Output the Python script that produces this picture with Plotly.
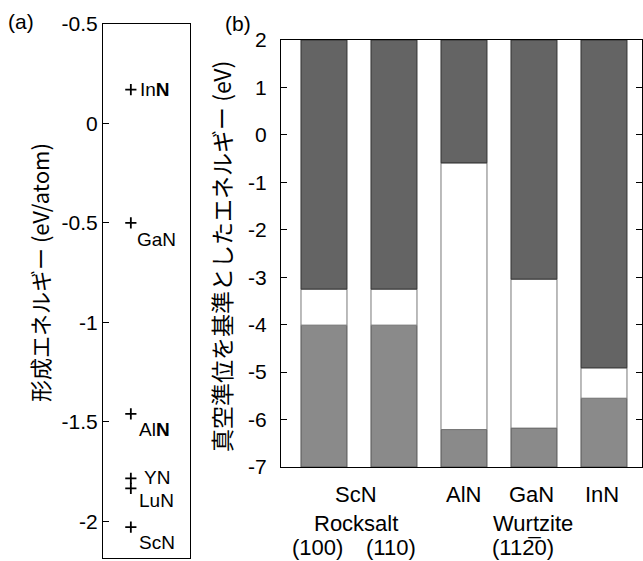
import plotly.graph_objects as go

# ---- data ----
# panel (a): formation energies (eV/atom)
comp_a = ["InN", "GaN", "AlN", "YN", "LuN", "ScN"]
form_energy = [0.17, -0.50, -1.46, -1.785, -1.835, -2.03]
label_a = ["In<b>N</b>", "GaN", "Al<b>N</b>", "YN", "LuN", "ScN"]

# panel (b): band edges vs vacuum level (eV)
bars_b = ["ScN(100)", "ScN(110)", "AlN", "GaN", "InN"]
cbm = [-3.25, -3.25, -0.59, -3.04, -4.91]
vbm = [-4.01, -4.01, -6.21, -6.18, -5.55]
y_bottom = -7
y_top = 2

W, H = 643, 561
def px_x(p): return p / W
def px_y(p): return 1 - p / H

SANS = "Liberation Sans, Arial"
TICKFONT = dict(family=SANS, size=21, color="black")
CJK = "Noto Sans CJK JP"

fig = go.Figure()

# panel (a) points
fig.add_trace(go.Scatter(
    x=[0.32] * len(form_energy), y=form_energy, mode="markers",
    marker=dict(symbol="cross-thin", size=8, line=dict(width=1.8, color="black")),
    xaxis="x", yaxis="y", showlegend=False, hoverinfo="skip"))

# panel (b) stacked bars
xs = list(range(len(bars_b)))
val_h = [v - y_bottom for v in vbm]
gap_h = [c - v for c, v in zip(cbm, vbm)]
cb_h = [y_top - c for c in cbm]
common = dict(x=xs, width=0.657, xaxis="x2", yaxis="y2", showlegend=False, hoverinfo="skip")
fig.add_trace(go.Bar(y=val_h, base=[y_bottom] * len(xs),
                     marker=dict(color="#8a8a8a", line=dict(color="#555555", width=1)), **common))
fig.add_trace(go.Bar(y=gap_h, base=vbm,
                     marker=dict(color="white", line=dict(color="#777777", width=1)), **common))
fig.add_trace(go.Bar(y=cb_h, base=cbm,
                     marker=dict(color="#646464", line=dict(color="#333333", width=1)), **common))

# axes
fig.update_layout(
    xaxis=dict(domain=[px_x(103), px_x(190)], range=[0, 1], showticklabels=False,
               ticks="", showgrid=False, zeroline=False, showline=True, mirror=True,
               linecolor="black", linewidth=1, automargin=False),
    yaxis=dict(domain=[px_y(558), px_y(24)], range=[-2.185, 0.5], anchor="x",
               tickvals=[0.5, 0, -0.5, -1, -1.5, -2],
               ticktext=["-0.5", "0", "-0.5", "-1", "-1.5", "-2"],
               ticks="inside", ticklen=6, tickcolor="black", tickfont=TICKFONT,
               showgrid=False, zeroline=False, showline=True, mirror=True,
               linecolor="black", linewidth=1, automargin=False),
    xaxis2=dict(domain=[px_x(281), px_x(642)], range=[-0.614, 4.543], anchor="y2",
                showticklabels=False, ticks="", showgrid=False, zeroline=False,
                showline=True, mirror=True, linecolor="black", linewidth=1, automargin=False),
    yaxis2=dict(domain=[px_y(467), px_y(40)], range=[-7, 2], anchor="x2",
                tickvals=list(range(-7, 3)),
                ticktext=[str(v) if v >= 0 else "-" + str(-v) for v in range(-7, 3)],
                ticks="inside", ticklen=6, tickcolor="black", tickfont=TICKFONT,
                ticklabelstandoff=9,
                showgrid=False, zeroline=False, showline=True, mirror="ticks",
                linecolor="black", linewidth=1, automargin=False),
    barmode="overlay",
    width=W, height=H, margin=dict(l=0, r=0, t=0, b=0, pad=0),
    plot_bgcolor="white", paper_bgcolor="white",
)

ann = []
def A(text, x, y, size=21, family=SANS, angle=0):
    ann.append(dict(text=text, x=x, y=y, xref="paper", yref="paper",
                    showarrow=False, textangle=angle, xanchor="center", yanchor="middle",
                    font=dict(family=family, size=size, color="black")))

# panel labels
A("(a)", px_x(21), px_y(22))
A("(b)", px_x(238), px_y(24))

# axis titles
A("形成エネルギー (eV/atom)", px_x(39), px_y(273), size=22, family=CJK, angle=-90)
A("真空準位を基準としたエネルギー (eV)", px_x(221), px_y(257), size=23, family=CJK, angle=-90)

# panel (a) point labels (offsets in pixels relative to points)
offsets = [(7, 0), (4, -17), (6, -16), (11, 1), (6, -12), (6, -15)]
for lab, e, (dx, dy) in zip(label_a, form_energy, offsets):
    ann.append(dict(text=lab, x=0.32, y=e, xref="x", yref="y", showarrow=False,
                    xanchor="left", yanchor="middle", xshift=dx, yshift=dy,
                    font=dict(family=SANS, size=19, color="black")))

# panel (b) category labels
yl1, yl2, yl3 = px_y(494), px_y(523), px_y(547)
for t, xv, yv in [("ScN", 0.46, yl1), ("AlN", 1.99, yl1), ("GaN", 2.97, yl1), ("InN", 3.97, yl1),
                  ("Rocksalt", 0.46, yl2), ("Wurtzite", 2.99, yl2),
                  ("(100)", -0.09, yl3), ("(110)", 0.96, yl3), ("(112\u03050)", 2.84, yl3)]:
    ann.append(dict(text=t, x=xv, y=yv, xref="x2", yref="paper", showarrow=False,
                    xanchor="center", yanchor="middle",
                    font=dict(family=SANS, size=22, color="black")))

fig.update_layout(annotations=ann)
fig.write_html("out.html")
